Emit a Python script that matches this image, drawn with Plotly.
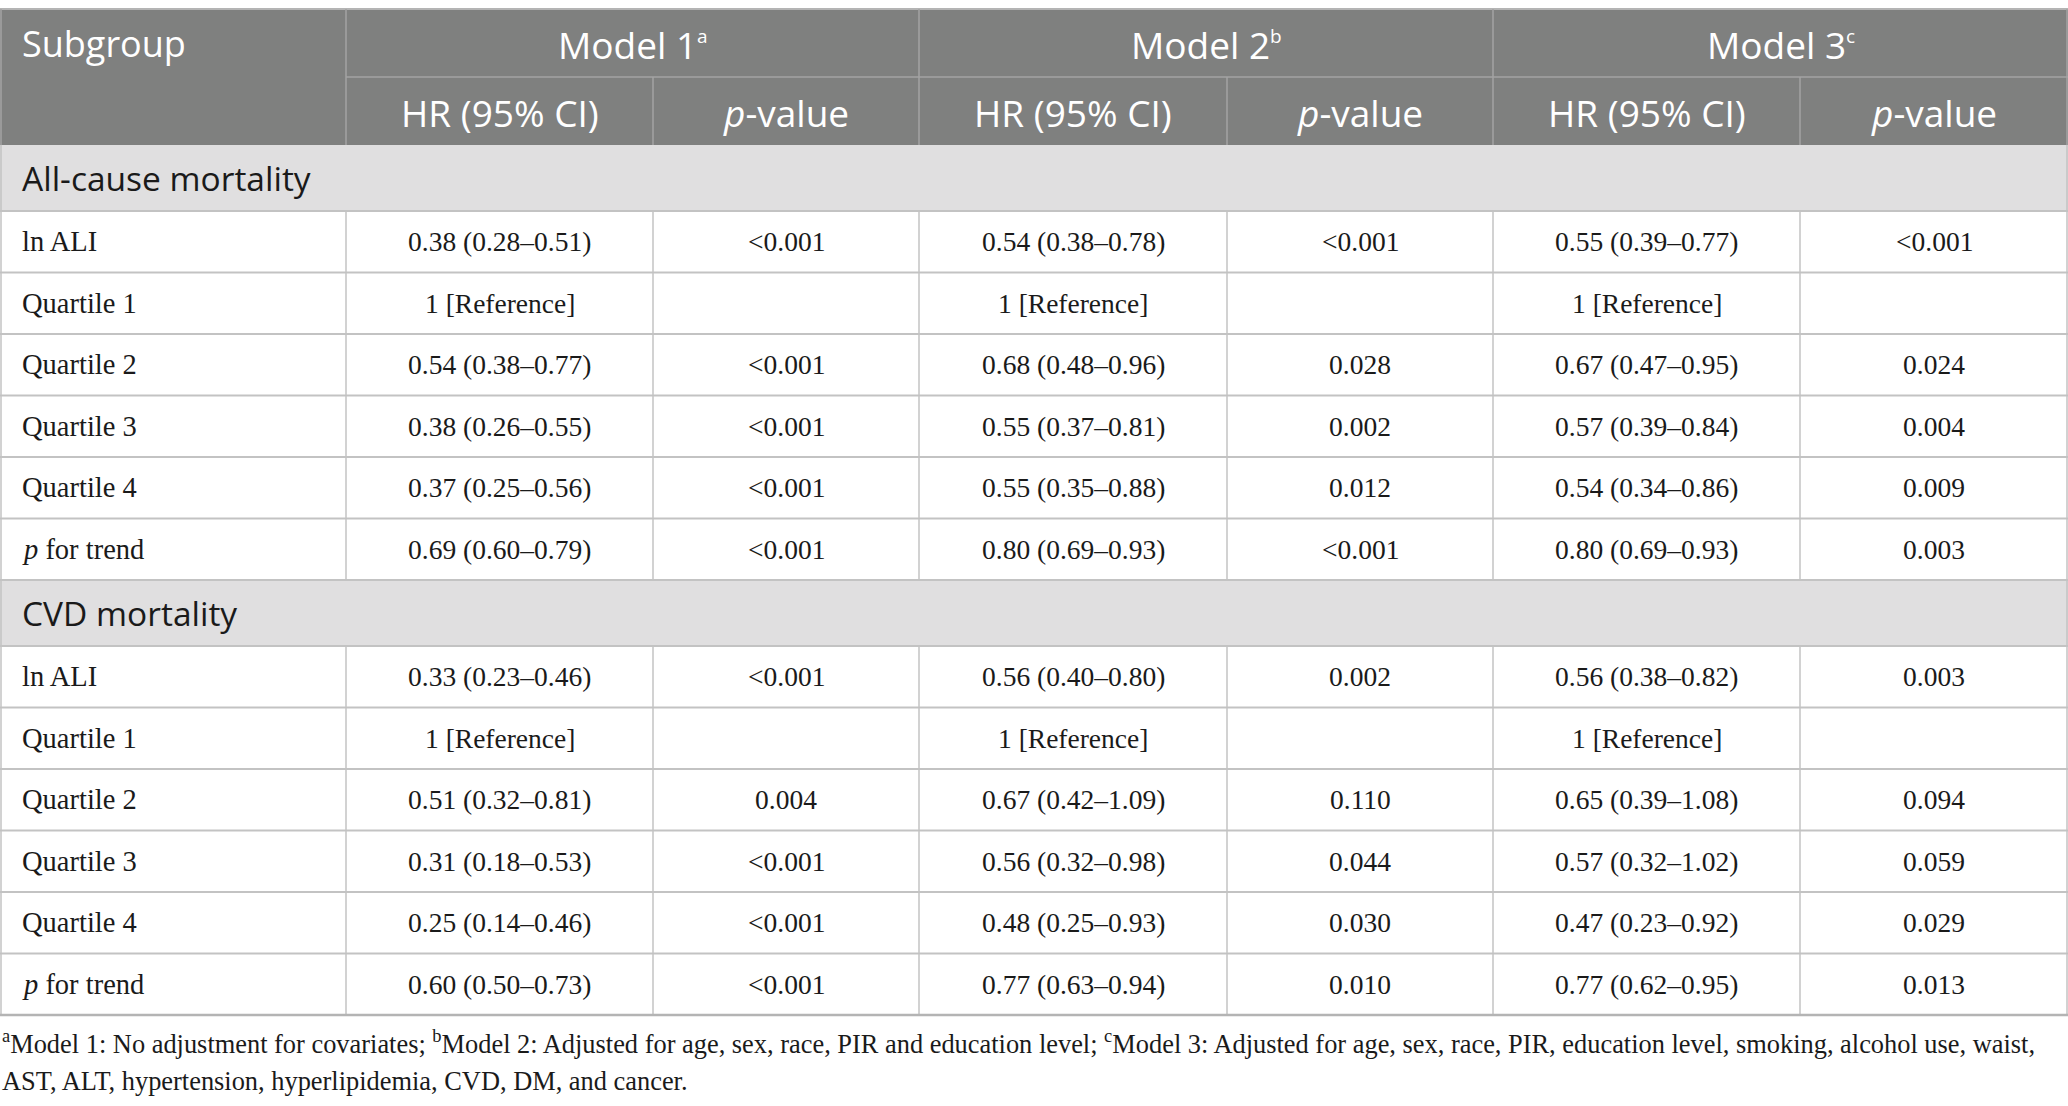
import plotly.graph_objects as go

# ---- table content ----
SUP = "<sup><span style='font-size:19px'>{}</span></sup>"
header_models = ["Model 1" + SUP.format("a"), "Model 2" + SUP.format("b"), "Model 3" + SUP.format("c")]
header_sub = ["HR (95% CI)", "<i>p</i>-value"]
sections = ["All-cause mortality", "CVD mortality"]
row_labels = ["ln ALI", "Quartile 1", "Quartile 2", "Quartile 3", "Quartile 4", "<i>p</i> for trend"]

# All-cause mortality
ac_m1_hr = ["0.38 (0.28–0.51)", "1 [Reference]", "0.54 (0.38–0.77)", "0.38 (0.26–0.55)", "0.37 (0.25–0.56)", "0.69 (0.60–0.79)"]
ac_m1_p = ["&lt;0.001", "", "&lt;0.001", "&lt;0.001", "&lt;0.001", "&lt;0.001"]
ac_m2_hr = ["0.54 (0.38–0.78)", "1 [Reference]", "0.68 (0.48–0.96)", "0.55 (0.37–0.81)", "0.55 (0.35–0.88)", "0.80 (0.69–0.93)"]
ac_m2_p = ["&lt;0.001", "", "0.028", "0.002", "0.012", "&lt;0.001"]
ac_m3_hr = ["0.55 (0.39–0.77)", "1 [Reference]", "0.67 (0.47–0.95)", "0.57 (0.39–0.84)", "0.54 (0.34–0.86)", "0.80 (0.69–0.93)"]
ac_m3_p = ["&lt;0.001", "", "0.024", "0.004", "0.009", "0.003"]

# CVD mortality
cvd_m1_hr = ["0.33 (0.23–0.46)", "1 [Reference]", "0.51 (0.32–0.81)", "0.31 (0.18–0.53)", "0.25 (0.14–0.46)", "0.60 (0.50–0.73)"]
cvd_m1_p = ["&lt;0.001", "", "0.004", "&lt;0.001", "&lt;0.001", "&lt;0.001"]
cvd_m2_hr = ["0.56 (0.40–0.80)", "1 [Reference]", "0.67 (0.42–1.09)", "0.56 (0.32–0.98)", "0.48 (0.25–0.93)", "0.77 (0.63–0.94)"]
cvd_m2_p = ["0.002", "", "0.110", "0.044", "0.030", "0.010"]
cvd_m3_hr = ["0.56 (0.38–0.82)", "1 [Reference]", "0.65 (0.39–1.08)", "0.57 (0.32–1.02)", "0.47 (0.23–0.92)", "0.77 (0.62–0.95)"]
cvd_m3_p = ["0.003", "", "0.094", "0.059", "0.029", "0.013"]

footnote_lines = [
    "<sup>a</sup>Model 1: No adjustment for covariates; <sup>b</sup>Model 2: Adjusted for age, sex, race, PIR and education level; "
    "<sup>c</sup>Model 3: Adjusted for age, sex, race, PIR, education level, smoking, alcohol use, waist,",
    "AST, ALT, hypertension, hyperlipidemia, CVD, DM, and cancer.",
]

# ---- layout geometry (page pixels) ----
W, H = 2068, 1106
col_x = [0, 346, 653, 919, 1227, 1493, 1800, 2068]
y_top = 9
y_h1 = 77
y_h2 = 145
sec_h = 66
row_h = 61.5

HEAD_BG = "#7f807f"
HEAD_LINE = "#a3a3a3"
SEC_BG = "#e0dfe0"
GRID = "#c3c3c3"
SANS = "Open Sans"
SERIF = "Liberation Serif"

fig = go.Figure()
shapes = []
annotations = []


def rect(x0, x1, y0, y1, color):
    shapes.append(dict(type="rect", xref="x", yref="y", x0=x0, x1=x1, y0=y0, y1=y1,
                       fillcolor=color, line=dict(width=0), layer="below"))


def line(x0, x1, y0, y1, color, width=1.5):
    shapes.append(dict(type="line", xref="x", yref="y", x0=x0, x1=x1, y0=y0, y1=y1,
                       line=dict(color=color, width=width)))


def text(x, y, s, font, size, color, anchor="center"):
    annotations.append(dict(x=x, y=y, xref="x", yref="y", text=s, showarrow=False,
                            xanchor=anchor, yanchor="middle",
                            font=dict(family=font, size=size, color=color)))


# header block
rect(0, W, y_top, y_h2, HEAD_BG)
line(0, W, y_top, y_top, "#b4b4b4", 2)
line(col_x[1], W, y_h1, y_h1, HEAD_LINE)
for i in (1, 3, 5):
    line(col_x[i], col_x[i], y_top, y_h2, HEAD_LINE)
for i in (2, 4, 6):
    line(col_x[i], col_x[i], y_h1, y_h2, HEAD_LINE)
line(1, 1, y_top, y_h2, HEAD_LINE)
line(W - 1, W - 1, y_top, y_h2, HEAD_LINE)

text(20, (y_top + y_h1) / 2, "Subgroup", SANS, 36, "white", "left")
for k, m in enumerate(header_models):
    text((col_x[1 + 2 * k] + col_x[3 + 2 * k]) / 2, (y_top + y_h1) / 2 + 1, m, SANS, 37, "white")
    for j, s in enumerate(header_sub):
        c = 1 + 2 * k + j
        text((col_x[c] + col_x[c + 1]) / 2, (y_h1 + y_h2) / 2 + 1, s, SANS, 37, "white")

blocks = [
    [ac_m1_hr, ac_m1_p, ac_m2_hr, ac_m2_p, ac_m3_hr, ac_m3_p],
    [cvd_m1_hr, cvd_m1_p, cvd_m2_hr, cvd_m2_p, cvd_m3_hr, cvd_m3_p],
]

y = y_h2
for sec, cols in zip(sections, blocks):
    # section band
    rect(0, W, y, y + sec_h, SEC_BG)
    line(1, 1, y, y + sec_h, GRID)
    line(W - 1, W - 1, y, y + sec_h, GRID)
    text(20, y + sec_h / 2, sec, SANS, 33.5, "#1a1a1a", "left")
    y += sec_h
    line(0, W, y, y, GRID, 2)
    for r, lab in enumerate(row_labels):
        y0, y1 = y, y + row_h
        for cx in col_x[1:-1]:
            line(cx, cx, y0, y1, GRID)
        line(1, 1, y0, y1, GRID)
        line(W - 1, W - 1, y0, y1, GRID)
        text(20, (y0 + y1) / 2, lab, SERIF, 28.5, "#1a1a1a", "left")
        for c, vals in enumerate(cols):
            if vals[r]:
                text((col_x[c + 1] + col_x[c + 2]) / 2, (y0 + y1) / 2, vals[r], SERIF, 27.5, "#1a1a1a")
        y = y1
        line(0, W, y, y, GRID, 2)

line(0, W, y, y, "#b4b4b4", 2.5)

# footnotes
for i, f in enumerate(footnote_lines):
    text(0, y + 27 + i * 39, f, SERIF, 26.4, "#1a1a1a", "left")

# invisible trace to anchor the axes
fig.add_trace(go.Scatter(x=[0, W], y=[0, H], mode="markers", marker=dict(opacity=0),
                         hoverinfo="skip", showlegend=False))

fig.update_layout(
    width=W, height=H,
    margin=dict(l=0, r=0, t=0, b=0),
    paper_bgcolor="white", plot_bgcolor="white",
    xaxis=dict(range=[0, W], visible=False, fixedrange=True),
    yaxis=dict(range=[H, 0], visible=False, fixedrange=True),
    shapes=shapes, annotations=annotations,
    showlegend=False,
)

# drop the default 8px page margin so the table sits flush with the window
fig.write_html("out.html", config={"displayModeBar": False},
               post_script="document.body.style.margin = '0';")
